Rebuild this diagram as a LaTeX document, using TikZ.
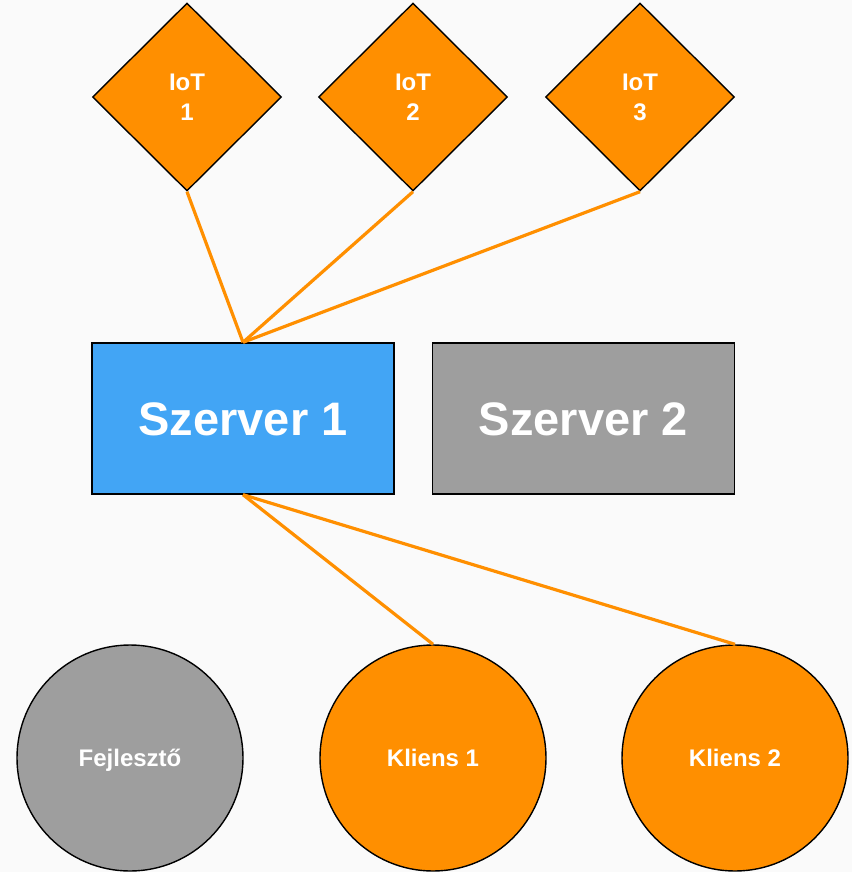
\documentclass[tikz,border=0pt]{standalone}
\usepackage{fontspec}
\setmainfont{Liberation Sans}
\usetikzlibrary{shapes.geometric}
\definecolor{bg}{HTML}{FAFAFA}
\definecolor{orng}{HTML}{FF8F00}
\definecolor{blu}{HTML}{42A5F5}
\definecolor{gry}{HTML}{9E9E9E}
\tikzset{
  iotbox/.style={diamond, draw=black, line width=1.4pt, fill=orng, minimum width=189pt, minimum height=188pt, inner sep=0pt, text=white, font=\fontsize{24}{30}\selectfont\bfseries, align=center},
  srvbox/.style={rectangle, draw=black, line width=1.4pt, minimum width=302pt, minimum height=151pt, inner sep=0pt, text=white, font=\fontsize{47}{50}\selectfont\bfseries, text height=34pt, text depth=0pt},
  usrbox/.style={circle, draw=black, line width=1.4pt, minimum size=226pt, inner sep=0pt, text=white, font=\fontsize{24}{28}\selectfont\bfseries, text height=17pt, text depth=0pt},
  link/.style={draw=orng, line width=3.2pt}
}
\begin{document}
\begin{tikzpicture}[x=1pt,y=-1pt]
\fill[bg] (0,0) rectangle (852,872);
\useasboundingbox (0,0) rectangle (852,872);
\node[iotbox] (iot1) at (187,97) {IoT\\1};
\node[iotbox] (iot2) at (413,97) {IoT\\2};
\node[iotbox] (iot3) at (640,97) {IoT\\3};
\node[srvbox, fill=blu] (s1) at (243,418.5) {Szerver 1};
\node[srvbox, fill=gry] (s2) at (583.5,418.5) {Szerver 2};
\node[usrbox, fill=gry] (dev) at (130,758) {Fejlesztő};
\node[usrbox, fill=orng] (k1) at (433,758) {Kliens 1};
\node[usrbox, fill=orng] (k2) at (735,758) {Kliens 2};
\draw[link] (iot1.south) -- (s1.north);
\draw[link] (iot2.south) -- (s1.north);
\draw[link] (iot3.south) -- (s1.north);
\draw[link] (s1.south) -- (k1.north);
\draw[link] (s1.south) -- (k2.north);
\end{tikzpicture}
\end{document}
